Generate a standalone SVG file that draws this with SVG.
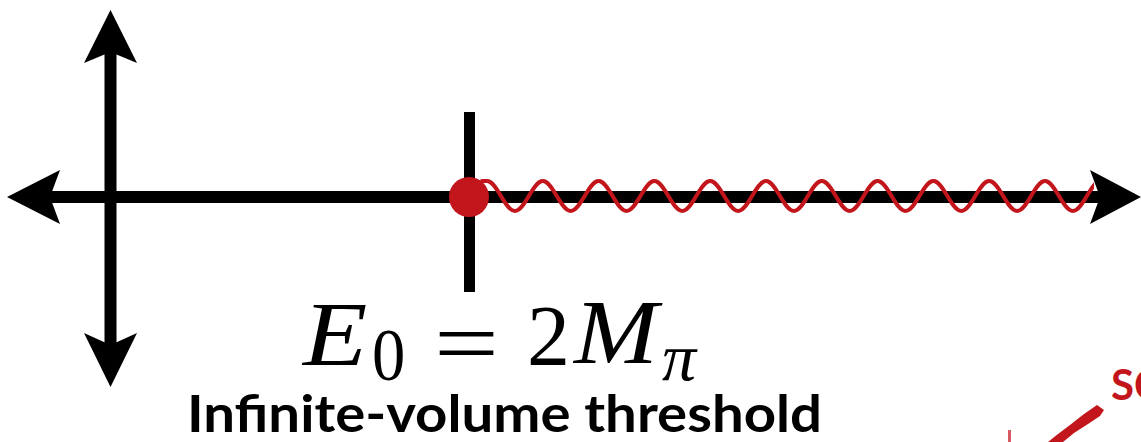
<svg xmlns="http://www.w3.org/2000/svg" width="1141" height="442" viewBox="0 0 1141 442">
  <style>
    .axis { stroke: #000; stroke-width: 12; fill: none; }
    .head { fill: #000; stroke: none; }
    .wave { stroke: #C3161C; stroke-width: 4; fill: none; stroke-linecap: round; }
    .red { fill: #C3161C; }
    .mi { font-family: "Liberation Serif", "Times New Roman", serif; font-style: italic; fill: #000; }
    .mr { font-family: "Liberation Serif", "Times New Roman", serif; fill: #000; }
    .label { font-family: Lato, "Liberation Sans", sans-serif; font-weight: 700; fill: #000; }
  </style>
  <defs>
    <clipPath id="waveclip"><rect x="470" y="150" width="624" height="100"/></clipPath>
  </defs>
  <rect width="1141" height="442" fill="#fff"/>

  <g id="connectors">
    <line class="axis" x1="110.5" y1="50" x2="110.5" y2="347"/>
    <polygon class="head" points="110.5,10 137,63 110.5,52 84,63"/>
    <polygon class="head" points="110.5,387 137,333 110.5,345 84,333"/>
    <line class="axis" x1="48" y1="197" x2="1102" y2="197"/>
    <polygon class="head" points="7,197 60,170 50,197 60,224"/>
    <polygon class="head" points="1141,197 1090,170 1100,197 1090,224"/>
    <line x1="469.5" y1="112" x2="469.5" y2="292" stroke="#000" stroke-width="11"/>
  </g>

  <g id="wave">
    <path class="wave" clip-path="url(#waveclip)" d="M 482 181 L 487 181 c 10.14 0 17.76 30 27.9 30 s 17.76 -30 27.9 -30 s 17.76 30 27.9 30 s 17.76 -30 27.9 -30 s 17.76 30 27.9 30 s 17.76 -30 27.9 -30 s 17.76 30 27.9 30 s 17.76 -30 27.9 -30 s 17.76 30 27.9 30 s 17.76 -30 27.9 -30 s 17.76 30 27.9 30 s 17.76 -30 27.9 -30 s 17.76 30 27.9 30 s 17.76 -30 27.9 -30 s 17.76 30 27.9 30 s 17.76 -30 27.9 -30 s 17.76 30 27.9 30 s 17.76 -30 27.9 -30 s 17.76 30 27.9 30 s 17.76 -30 27.9 -30 s 17.76 30 27.9 30 s 17.76 -30 27.9 -30"/>
  </g>

  <g id="threshold-point">
    <circle class="red" cx="469" cy="197" r="20"/>
  </g>

  <g id="formula">
    <text class="mi" font-size="90" transform="translate(303,365) scale(1.17,1)">E</text>
    <text class="mr" font-size="74" transform="translate(372,380) scale(0.9,1)">0</text>
    <text class="mr" font-size="90" transform="translate(434,374) scale(1.28,1)">=</text>
    <text class="mr" font-size="86" x="527" y="365">2</text>
    <text class="mi" font-size="90" transform="translate(574,363) scale(1.12,1)">M</text>
    <text class="mi" font-size="68" x="662" y="380">π</text>
  </g>

  <g id="caption">
    <text class="label" font-size="51" x="187" y="432" textLength="635" lengthAdjust="spacingAndGlyphs">Infinite-volume threshold</text>
  </g>

  <g id="corner">
    <text font-family="Lato, 'Liberation Sans', sans-serif" font-weight="700" font-size="42" fill="#C3161C" x="1111" y="400">SC</text>
    <polygon class="red" points="1097,405 1104,410 1100,416 1088,424 1074,433 1063,442 1048,442 1058,434 1070,425 1084,414"/>
    <rect class="red" x="1008" y="430" width="3" height="12" opacity="0.7"/>
  </g>
</svg>
